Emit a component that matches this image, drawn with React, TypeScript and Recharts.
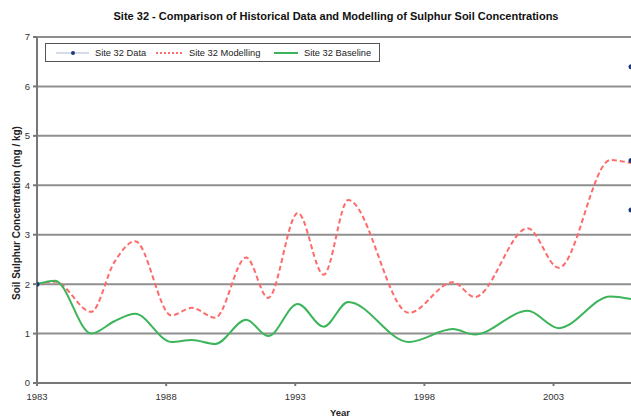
import React from 'react';
import { ComposedChart, Line, Scatter, XAxis, YAxis, CartesianGrid } from 'recharts';

const years = [1983, 1983.7, 1985.1, 1986.0, 1986.8, 1988.2, 1989.0, 1989.9, 1991.1, 1991.95, 1993.1, 1994.1, 1995.05, 1997.4, 1999.1, 1999.95, 2002.0, 2003.2, 2005.2, 2006];
const modelling = [2.0, 2.05, 1.44, 2.45, 2.87, 1.37, 1.52, 1.32, 2.54, 1.72, 3.44, 2.19, 3.7, 1.42, 2.04, 1.74, 3.13, 2.33, 4.51, 4.45];
const baseline = [2.0, 2.07, 1.0, 1.25, 1.4, 0.83, 0.87, 0.79, 1.28, 0.95, 1.6, 1.14, 1.64, 0.83, 1.09, 0.98, 1.46, 1.11, 1.75, 1.7];
const dataYears = [1983, 2006, 2006, 2006];
const dataValues = [2.0, 6.4, 4.5, 3.5];
const xTicks = [1983, 1988, 1993, 1998, 2003];
const yTicks = [0, 1, 2, 3, 4, 5, 6, 7];

const title = 'Site 32 - Comparison of Historical Data and Modelling of Sulphur Soil Concentrations';
const yLabel = 'Soil Sulphur Concentration  (mg / kg)';
const xLabel = 'Year';

const lineData = years.map((y, i) => ({ year: y, modelling: modelling[i], baseline: baseline[i] }));
const pointData = dataYears.map((y, i) => ({ year: y, data: dataValues[i] }));

const FONT = '"Liberation Sans", Arial, sans-serif';

const LegendBox = () => {
  const txt: React.CSSProperties = { position: 'absolute', top: 3, whiteSpace: 'nowrap', fontFamily: FONT, fontSize: 9.3, color: '#222', lineHeight: '12px' };
  return (
    <div style={{ position: 'absolute', left: 45, top: 43, border: '1px solid #555', width: 335, height: 19, boxSizing: 'border-box', background: '#fff' }}>
      <svg width={335} height={17} style={{ position: 'absolute', left: 0, top: 0 }}>
        <line x1={10} y1={9} x2={43} y2={9} stroke="#c8cfe0" strokeWidth={1.5} />
        <circle cx={27} cy={9} r={2} fill="#1f3a7a" />
        <line x1={110} y1={9} x2={137} y2={9} stroke="#ff6b6b" strokeWidth={2} strokeDasharray="2 2" />
        <line x1={228} y1={9} x2={252} y2={9} stroke="#3cb55a" strokeWidth={2} />
      </svg>
      <span style={{ ...txt, left: 49 }}>Site 32 Data</span>
      <span style={{ ...txt, left: 143 }}>Site 32 Modelling</span>
      <span style={{ ...txt, left: 258 }}>Site 32 Baseline</span>
    </div>
  );
};

const YLabel = () => {
  const cy = 213;
  return (
    <text x={16} y={cy} transform={`rotate(-90, 16, ${cy})`} textAnchor="middle" dominantBaseline="central"
      fontFamily={FONT} fontSize={10} fontWeight="bold" fill="#222">{yLabel}</text>
  );
};

const XLabel = () => (
  <text x={340} y={416} textAnchor="middle" fontFamily={FONT} fontSize={9.5} fontWeight="bold" fill="#222">{xLabel}</text>
);

export default function App() {
  return (
    <div style={{ position: 'absolute', left: 0, top: 0, width: 631, height: 419, background: '#fff', overflow: 'hidden' }}>
      <div style={{
        position: 'absolute', top: 10, left: 0, width: 672, textAlign: 'center',
        fontFamily: FONT, fontSize: 11, fontWeight: 'bold', color: '#111'
      }}>{title}</div>
      <ComposedChart width={631} height={419} data={lineData} margin={{ top: 37, right: 0, bottom: 0, left: 0 }}>
        <CartesianGrid vertical={false} stroke="#8f8f8f" strokeWidth={2} horizontalValues={[1, 2, 3, 4, 5, 6, 7]} />
        <XAxis dataKey="year" type="number" domain={[1983, 2006]} ticks={xTicks} height={36}
          tick={{ fontFamily: FONT, fontSize: 9.5, fill: '#333' }} tickSize={3} tickMargin={7}
          stroke="#777" strokeWidth={2} allowDataOverflow label={<XLabel />} />
        <YAxis type="number" domain={[0, 7]} ticks={yTicks} width={37} interval={0}
          tick={{ fontFamily: FONT, fontSize: 9.5, fill: '#333' }} tickSize={4} tickMargin={3}
          stroke="#777" strokeWidth={2} label={<YLabel />} />
        <Line type="monotone" dataKey="modelling" stroke="#ff6b6b" strokeWidth={2} strokeDasharray="5 3" dot={false} isAnimationActive={false} />
        <Line type="monotone" dataKey="baseline" stroke="#3cb55a" strokeWidth={2} dot={false} isAnimationActive={false} />
        <Scatter data={pointData} dataKey="data" fill="#1f3a7a" isAnimationActive={false} legendType="none"
          shape={(p: any) => <circle cx={p.cx} cy={p.cy} r={2.5} fill="#1f3a7a" />} />
      </ComposedChart>
      <LegendBox />
    </div>
  );
}
